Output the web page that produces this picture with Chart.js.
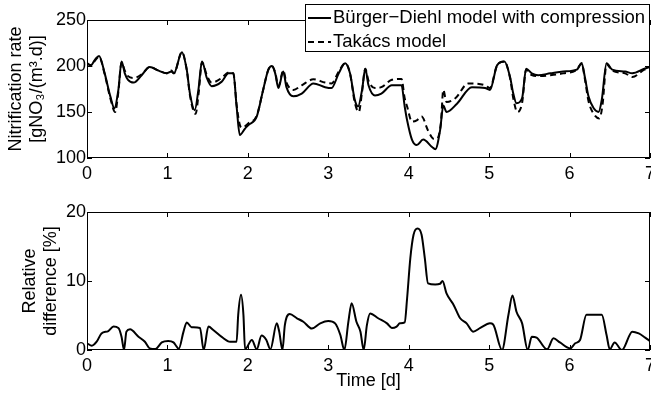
<!DOCTYPE html>
<html>
<head>
<meta charset="utf-8">
<script src="https://cdn.jsdelivr.net/npm/chart.js@4/dist/chart.umd.min.js"></script>
<style>
  html, body { margin: 0; padding: 0; background: #fff; }
  #wrap { position: relative; width: 651px; height: 393px; overflow: hidden; }
  canvas { position: absolute; left: 0; }
  #rateChart { top: 0; }
  #diffChart { top: 196px; }
</style>
</head>
<body>
<div id="wrap">
  <canvas id="rateChart" width="651" height="196"></canvas>
  <canvas id="diffChart" width="651" height="197"></canvas>
</div>
<script>
// Time axis [d] and tick values
const dayTicks  = [0, 1, 2, 3, 4, 5, 6, 7];
const rateTicks = [100, 150, 200, 250];
const diffTicks = [0, 10, 20];

// Bürger–Diehl model with compression: nitrification rate [gNO3/(m3.d)]
const timeBD = [0, 0.05, 0.10, 0.15, 0.22, 0.29, 0.34, 0.39, 0.43, 0.47, 0.51, 0.58, 0.68, 0.78, 0.89, 0.99,
  1.05, 1.08, 1.18, 1.24, 1.28, 1.34, 1.385, 1.43, 1.49, 1.55, 1.675, 1.76, 1.82, 1.86, 1.90, 1.965,
  2.01, 2.11, 2.19, 2.255, 2.30, 2.34, 2.38, 2.44, 2.48, 2.565, 2.67, 2.815, 2.96, 3.04, 3.13, 3.21,
  3.27, 3.33, 3.37, 3.42, 3.46, 3.50, 3.58, 3.66, 3.79, 3.91, 3.95, 3.98, 4.04, 4.10, 4.18, 4.29,
  4.33, 4.39, 4.43, 4.47, 4.60, 4.785, 4.95, 5.01, 5.10, 5.19, 5.26, 5.30, 5.34, 5.41, 5.46, 5.53,
  5.61, 5.76, 5.92, 6.09, 6.15, 6.19, 6.235, 6.30, 6.36, 6.40, 6.46, 6.53, 6.69, 6.78, 6.93, 7.0];
const rateBD = [203, 201, 207, 211, 192, 167, 154, 174, 205, 192, 185, 182, 190, 199, 195, 192,
  194, 192, 215, 196, 170, 152, 174, 205, 187, 178, 183, 192, 192, 156, 125, 132,
  136, 145, 174, 196, 200, 192, 176, 194, 177, 167, 170, 181, 177, 176, 192, 203,
  192, 163, 156, 174, 197, 179, 168, 170, 179, 179, 156, 141, 120, 114, 120, 112,
  109.5, 130, 157, 150, 159, 177, 176, 174, 201, 205, 188, 170, 159.5, 165, 197, 192,
  190, 192, 194, 196, 203, 188, 167, 154, 150, 163, 203, 196, 194, 192, 197, 199];

// Takács model: nitrification rate [gNO3/(m3.d)]
const timeTK = [0, 0.05, 0.10, 0.15, 0.22, 0.29, 0.35, 0.39, 0.43, 0.47, 0.51, 0.58, 0.68, 0.78, 0.89, 0.99,
  1.05, 1.08, 1.18, 1.24, 1.28, 1.35, 1.39, 1.43, 1.49, 1.55, 1.675, 1.76, 1.82, 1.86, 1.90, 1.93,
  2.01, 2.11, 2.19, 2.255, 2.30, 2.34, 2.38, 2.44, 2.48, 2.565, 2.67, 2.815, 2.96, 3.04, 3.13, 3.21,
  3.27, 3.33, 3.38, 3.42, 3.46, 3.50, 3.58, 3.66, 3.79, 3.91, 3.95, 3.98, 4.04, 4.10, 4.16, 4.24,
  4.31, 4.35, 4.40, 4.43, 4.47, 4.58, 4.74, 4.95, 5.01, 5.10, 5.19, 5.26, 5.30, 5.35, 5.41, 5.46,
  5.53, 5.61, 5.76, 5.92, 6.09, 6.15, 6.19, 6.235, 6.30, 6.37, 6.41, 6.46, 6.53, 6.69, 6.78, 6.93, 7.0];
const rateTK = [203, 200, 206, 210, 191, 165, 150, 172, 204, 195, 189, 187, 191, 199, 195, 192,
  195, 192, 215, 196, 168, 148, 172, 204, 190, 182, 187, 193, 192, 158, 136, 133,
  138, 146, 174, 196, 200, 193, 178, 195, 182, 174, 179, 185.5, 182, 181, 194, 203,
  192, 160, 150, 172, 197, 184, 176, 177, 185, 186, 165, 156, 139.5, 141, 145, 130,
  121, 121, 138, 174, 161, 165, 181, 179, 176, 201, 205, 187, 165, 150, 160, 196,
  190, 189, 190, 192, 196, 203, 186, 162, 148, 143, 158, 202, 195, 192, 188, 196, 198];

// Relative difference between the two models [%]
const timeDiff = [0, 0.06, 0.12, 0.18, 0.265, 0.33, 0.39, 0.43, 0.46, 0.49, 0.535, 0.64, 0.72, 0.78, 0.85, 0.93,
  1.01, 1.075, 1.115, 1.14, 1.20, 1.24, 1.30, 1.405, 1.45, 1.51, 1.57, 1.675, 1.78, 1.86, 1.88, 1.915,
  1.945, 1.965, 2.05, 2.11, 2.17, 2.23, 2.28, 2.36, 2.39, 2.43, 2.46, 2.52, 2.61, 2.69, 2.795, 2.90,
  3.00, 3.085, 3.15, 3.20, 3.25, 3.29, 3.35, 3.40, 3.44, 3.48, 3.52, 3.62, 3.73, 3.79, 3.85, 3.89,
  3.95, 3.98, 4.02, 4.06, 4.11, 4.16, 4.20, 4.24, 4.33, 4.39, 4.42, 4.47, 4.56, 4.64, 4.72, 4.80,
  4.89, 5.01, 5.05, 5.16, 5.24, 5.29, 5.34, 5.41, 5.48, 5.53, 5.59, 5.72, 5.80, 5.88, 6.01, 6.07,
  6.13, 6.21, 6.28, 6.40, 6.46, 6.50, 6.56, 6.65, 6.78, 6.86, 6.94, 7.0];
const relDiff = [0.97, 0.62, 1.2, 2.4, 2.75, 3.4, 3.2, 1.9, 0, 2.66, 3.0, 1.93, 1.2, 0.24, 0.14, 1.1,
  1.3, 1.1, 0.5, 0.15, 2.66, 4.0, 3.3, 3.2, 0, 3.4, 2.9, 1.9, 1.2, 1.2, 5.1, 8.0,
  5.1, 0.1, 1.45, 0.1, 2.1, 1.45, 0.1, 3.86, 2.66, 0, 3.6, 5.2, 4.6, 4.1, 3.1, 3.86,
  4.2, 3.86, 2.17, 0, 4.1, 6.76, 4.1, 2.66, 0, 3.6, 5.3, 4.6, 3.86, 3.2, 3.4, 3.86,
  4.0, 7.5, 13.3, 16.7, 17.6, 16.7, 13.3, 9.66, 9.5, 9.6, 10.0, 8.2, 6.5, 4.6, 3.86, 2.66,
  3.2, 3.86, 3.7, 0, 5.1, 7.9, 5.55, 3.86, 0, 1.93, 1.8, 0.1, 1.7, 1.1, 0.24, 0.97,
  1.45, 5.1, 5.1, 5.1, 2.17, 0.1, 1.1, 0, 2.66, 2.4, 1.8, 1.3];

const FONT = { family: '"Liberation Sans", Arial, Helvetica, sans-serif', size: 18 };
const LEGEND_SIZE = 18.5;
const INK = '#000';

const toPoints = (xs, ys) => xs.map((x, i) => ({ x, y: ys[i] }));
const fixedTicks = list => scale => { scale.ticks = list.map(v => ({ value: v })); };

// Boxed axes with inward tick marks on all four sides
const boxedAxes = {
  id: 'boxedAxes',
  afterDatasetsDraw(chart) {
    const { ctx, chartArea: a, scales } = chart;
    const L = 5;
    ctx.save();
    ctx.strokeStyle = INK;
    ctx.lineWidth = 1;
    ctx.strokeRect(a.left + 0.5, a.top + 0.5, a.right - a.left - 1, a.bottom - a.top - 1);
    ctx.beginPath();
    scales.x.ticks.forEach(t => {
      const px = Math.round(scales.x.getPixelForValue(t.value)) + 0.5;
      ctx.moveTo(px, a.bottom); ctx.lineTo(px, a.bottom - L);
      ctx.moveTo(px, a.top); ctx.lineTo(px, a.top + L);
    });
    scales.y.ticks.forEach(t => {
      const py = Math.round(scales.y.getPixelForValue(t.value)) + 0.5;
      ctx.moveTo(a.left, py); ctx.lineTo(a.left + L, py);
      ctx.moveTo(a.right, py); ctx.lineTo(a.right - L, py);
    });
    ctx.stroke();
    ctx.restore();
  }
};

// Framed legend in the upper right corner of the rate panel
const cornerLegend = {
  id: 'cornerLegend',
  afterDraw(chart) {
    const { ctx, chartArea: a } = chart;
    const right = a.right, left = 305, top = a.top - 16, bottom = a.top + 32;
    ctx.save();
    ctx.fillStyle = '#fff';
    ctx.fillRect(left, top, right - left, bottom - top);
    ctx.strokeStyle = INK;
    ctx.lineWidth = 1;
    ctx.strokeRect(left + 0.5, top + 0.5, right - left - 1, bottom - top - 1);
    ctx.font = `${LEGEND_SIZE}px ${FONT.family}`;
    ctx.textBaseline = 'middle';
    ctx.textAlign = 'left';
    chart.data.datasets.forEach((ds, i) => {
      const y = top + 14 + i * 24;
      ctx.beginPath();
      ctx.setLineDash(ds.borderDash || []);
      ctx.lineWidth = ds.borderWidth;
      ctx.strokeStyle = ds.borderColor;
      ctx.moveTo(left + 3, y); ctx.lineTo(left + 26, y);
      ctx.stroke();
      ctx.setLineDash([]);
      ctx.fillStyle = INK;
      ctx.fillText(ds.label, left + 28, y);
    });
    ctx.restore();
  }
};

function xScale(height, title) {
  return {
    type: 'linear', min: 0, max: 7,
    afterBuildTicks: fixedTicks(dayTicks),
    grid: { display: false, drawTicks: false },
    border: { display: false },
    ticks: { font: FONT, color: INK, padding: 5, maxRotation: 0, autoSkip: false },
    title: title ? { display: true, text: title, font: FONT, color: INK, padding: { top: 0, bottom: 1 } } : { display: false },
    afterFit: s => { s.height = height; s.paddingLeft = 0; s.paddingRight = 0; }
  };
}
function yScale(min, max, ticks, title, titlePad) {
  return {
    min, max,
    afterBuildTicks: fixedTicks(ticks),
    grid: { display: false, drawTicks: false },
    border: { display: false },
    ticks: { font: FONT, color: INK, padding: 1 },
    title: { display: true, text: title, font: FONT, color: INK, padding: { top: titlePad, bottom: 0 } },
    afterFit: s => { s.width = 87; s.paddingTop = 0; s.paddingBottom = 0; }
  };
}

const lineStyle = { borderColor: INK, borderWidth: 2, pointRadius: 0, fill: false, cubicInterpolationMode: 'monotone' };

new Chart(document.getElementById('rateChart'), {
  type: 'line',
  data: {
    datasets: [
      { label: 'Bürger\u2212Diehl model with compression', data: toPoints(timeBD, rateBD), ...lineStyle },
      { label: 'Takács model', data: toPoints(timeTK, rateTK), ...lineStyle, borderDash: [6, 4] }
    ]
  },
  options: {
    responsive: false, animation: false, devicePixelRatio: 1,
    layout: { padding: { top: 20, right: 1, left: 0, bottom: 0 } },
    plugins: { legend: { display: false }, tooltip: { enabled: false } },
    scales: {
      x: xScale(38, null),
      y: yScale(100, 250, rateTicks, ['Nitrification rate', '[gNO\u2083/(m\u00b3.d)]'], 5)
    }
  },
  plugins: [boxedAxes, cornerLegend]
});

new Chart(document.getElementById('diffChart'), {
  type: 'line',
  data: {
    datasets: [
      { label: 'Relative difference', data: toPoints(timeDiff, relDiff), ...lineStyle }
    ]
  },
  options: {
    responsive: false, animation: false, devicePixelRatio: 1,
    layout: { padding: { top: 16, right: 1, left: 0, bottom: 0 } },
    plugins: { legend: { display: false }, tooltip: { enabled: false } },
    scales: {
      x: xScale(43, 'Time [d]'),
      y: yScale(0, 20, diffTicks, ['Relative', 'difference [%]'], 19)
    }
  },
  plugins: [boxedAxes]
});
</script>
</body>
</html>
